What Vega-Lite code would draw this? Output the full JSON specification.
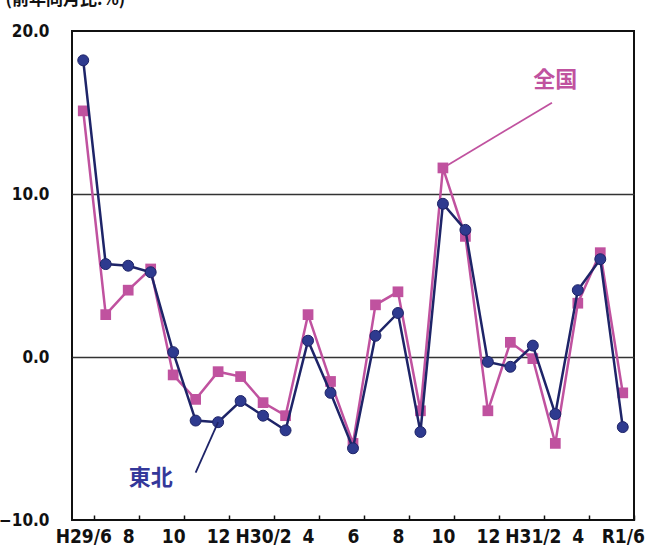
{
  "$schema": "https://vega.github.io/schema/vega-lite/v6.json",
  "width": 562,
  "height": 489,
  "autosize": {"type": "none"},
  "padding": {"left": 72, "top": 31, "right": 15, "bottom": 33},
  "background": "white",
  "config": {
    "view": {"stroke": "#111111", "strokeWidth": 2},
    "axis": {"labelFont": "Liberation Sans Narrow, DejaVu Sans Condensed, Roboto, sans-serif", "labelColor": "#111111", "labelFontWeight": "bold", "labelOverlap": false},
    "axisX": {"labelOverlap": false, "labelFlush": false}
  },
  "datasets": {
    "series": [
      {"i": 0, "month": "H29/6", "region": "東北", "value": 18.2},
      {"i": 1, "month": "H29/7", "region": "東北", "value": 5.7},
      {"i": 2, "month": "H29/8", "region": "東北", "value": 5.6},
      {"i": 3, "month": "H29/9", "region": "東北", "value": 5.2},
      {"i": 4, "month": "H29/10", "region": "東北", "value": 0.3},
      {"i": 5, "month": "H29/11", "region": "東北", "value": -3.9},
      {"i": 6, "month": "H29/12", "region": "東北", "value": -4.0},
      {"i": 7, "month": "H30/1", "region": "東北", "value": -2.7},
      {"i": 8, "month": "H30/2", "region": "東北", "value": -3.6},
      {"i": 9, "month": "H30/3", "region": "東北", "value": -4.5},
      {"i": 10, "month": "H30/4", "region": "東北", "value": 1.0},
      {"i": 11, "month": "H30/5", "region": "東北", "value": -2.2},
      {"i": 12, "month": "H30/6", "region": "東北", "value": -5.6},
      {"i": 13, "month": "H30/7", "region": "東北", "value": 1.3},
      {"i": 14, "month": "H30/8", "region": "東北", "value": 2.7},
      {"i": 15, "month": "H30/9", "region": "東北", "value": -4.6},
      {"i": 16, "month": "H30/10", "region": "東北", "value": 9.4},
      {"i": 17, "month": "H30/11", "region": "東北", "value": 7.8},
      {"i": 18, "month": "H30/12", "region": "東北", "value": -0.3},
      {"i": 19, "month": "H31/1", "region": "東北", "value": -0.6},
      {"i": 20, "month": "H31/2", "region": "東北", "value": 0.7},
      {"i": 21, "month": "H31/3", "region": "東北", "value": -3.5},
      {"i": 22, "month": "H31/4", "region": "東北", "value": 4.1},
      {"i": 23, "month": "R1/5", "region": "東北", "value": 6.0},
      {"i": 24, "month": "R1/6", "region": "東北", "value": -4.3},
      {"i": 0, "month": "H29/6", "region": "全国", "value": 15.1},
      {"i": 1, "month": "H29/7", "region": "全国", "value": 2.6},
      {"i": 2, "month": "H29/8", "region": "全国", "value": 4.1},
      {"i": 3, "month": "H29/9", "region": "全国", "value": 5.4},
      {"i": 4, "month": "H29/10", "region": "全国", "value": -1.1},
      {"i": 5, "month": "H29/11", "region": "全国", "value": -2.6},
      {"i": 6, "month": "H29/12", "region": "全国", "value": -0.9},
      {"i": 7, "month": "H30/1", "region": "全国", "value": -1.2},
      {"i": 8, "month": "H30/2", "region": "全国", "value": -2.8},
      {"i": 9, "month": "H30/3", "region": "全国", "value": -3.6},
      {"i": 10, "month": "H30/4", "region": "全国", "value": 2.6},
      {"i": 11, "month": "H30/5", "region": "全国", "value": -1.5},
      {"i": 12, "month": "H30/6", "region": "全国", "value": -5.3},
      {"i": 13, "month": "H30/7", "region": "全国", "value": 3.2},
      {"i": 14, "month": "H30/8", "region": "全国", "value": 4.0},
      {"i": 15, "month": "H30/9", "region": "全国", "value": -3.3},
      {"i": 16, "month": "H30/10", "region": "全国", "value": 11.6},
      {"i": 17, "month": "H30/11", "region": "全国", "value": 7.4},
      {"i": 18, "month": "H30/12", "region": "全国", "value": -3.3},
      {"i": 19, "month": "H31/1", "region": "全国", "value": 0.9},
      {"i": 20, "month": "H31/2", "region": "全国", "value": -0.1},
      {"i": 21, "month": "H31/3", "region": "全国", "value": -5.3},
      {"i": 22, "month": "H31/4", "region": "全国", "value": 3.3},
      {"i": 23, "month": "R1/5", "region": "全国", "value": 6.4},
      {"i": 24, "month": "R1/6", "region": "全国", "value": -2.2}
    ],
    "notes": [
      {"region": "全国", "i": 21, "v": 17.0},
      {"region": "東北", "i": 3, "v": -7.4}
    ],
    "leaders": [
      {"region": "全国", "i": 16, "v": 11.6, "i2": 20.85, "v2": 15.6},
      {"region": "東北", "i": 5.0, "v": -7.1, "i2": 6.0, "v2": -4.0}
    ]
  },
  "layer": [
    {
      "data": {"name": "series"},
      "transform": [{"filter": "datum.region === '全国'"}],
      "mark": {"type": "line", "color": "#c0529f", "strokeWidth": 2.5},
      "encoding": {
        "x": {
          "field": "i", "type": "quantitative",
          "scale": {"domain": [-0.5, 24.5], "nice": false, "zero": false},
          "axis": {
            "title": null,
            "values": [0.5, 1.5, 2.5, 3.5, 4.5, 5.5, 6.5, 7.5, 8.5, 9.5, 10.5, 11.5, 12.5, 13.5, 14.5, 15.5, 16.5, 17.5, 18.5, 19.5, 20.5, 21.5, 22.5, 23.5, 24.5],
            "labelExpr": "datum.value == 0.5 ? 'H29/6' : datum.value == 2.5 ? '8' : datum.value == 4.5 ? '10' : datum.value == 6.5 ? '12' : datum.value == 8.5 ? 'H30/2' : datum.value == 10.5 ? '4' : datum.value == 12.5 ? '6' : datum.value == 14.5 ? '8' : datum.value == 16.5 ? '10' : datum.value == 18.5 ? '12' : datum.value == 20.5 ? 'H31/2' : datum.value == 22.5 ? '4' : datum.value == 24.5 ? 'R1/6' : ''",
            "labelOffset": -11.24,
            "labelOverlap": false,
            "labelFlush": false,
            "labelFontSize": 19,
            "labelPadding": 12,
            "tickSize": -5,
            "tickColor": "#111111",
            "tickWidth": 1.5,
            "domain": false,
            "grid": false
          }
        },
        "y": {
          "field": "value", "type": "quantitative",
          "scale": {"domain": [-10, 20], "nice": false},
          "axis": {
            "title": "(前年同月比:%)",
            "titleAngle": 0,
            "titleAlign": "left",
            "titleBaseline": "bottom",
            "titleX": -67,
            "titleY": -23,
            "titleFont": "Noto Sans CJK JP",
            "titleFontSize": 17,
            "titleFontWeight": "bold",
            "titleColor": "#111111",
            "values": [-10, 0, 10, 20],
            "format": ".1f",
            "labelFontSize": 17,
            "labelPadding": 23,
            "ticks": false,
            "domain": false,
            "grid": true,
            "gridColor": "#333333",
            "gridWidth": 1.5,
            "gridOpacity": {"condition": {"test": "datum.value === 0 || datum.value === 10", "value": 1}, "value": 0}
          }
        }
      }
    },
    {
      "data": {"name": "series"},
      "transform": [{"filter": "datum.region === '全国'"}],
      "mark": {"type": "square", "color": "#c0529f", "filled": true, "opacity": 1, "size": 115},
      "encoding": {
        "x": {"field": "i", "type": "quantitative"},
        "y": {"field": "value", "type": "quantitative"}
      }
    },
    {
      "data": {"name": "series"},
      "transform": [{"filter": "datum.region === '東北'"}],
      "mark": {"type": "line", "color": "#1e2468", "strokeWidth": 2.5},
      "encoding": {
        "x": {"field": "i", "type": "quantitative"},
        "y": {"field": "value", "type": "quantitative"}
      }
    },
    {
      "data": {"name": "series"},
      "transform": [{"filter": "datum.region === '東北'"}],
      "mark": {"type": "circle", "fill": "#2e3a8f", "stroke": "#1e2468", "strokeWidth": 1, "opacity": 1, "size": 120},
      "encoding": {
        "x": {"field": "i", "type": "quantitative"},
        "y": {"field": "value", "type": "quantitative"}
      }
    },
    {
      "data": {"name": "leaders"},
      "mark": {"type": "rule", "strokeWidth": 1.8},
      "encoding": {
        "x": {"field": "i", "type": "quantitative"},
        "y": {"field": "v", "type": "quantitative"},
        "x2": {"field": "i2"},
        "y2": {"field": "v2"},
        "color": {"field": "region", "type": "nominal", "scale": {"domain": ["全国", "東北"], "range": ["#c0529f", "#1e2468"]}, "legend": null}
      }
    },
    {
      "data": {"name": "notes"},
      "mark": {"type": "text", "font": "Noto Sans CJK JP", "fontWeight": "bold", "fontSize": 22, "align": "center", "baseline": "middle"},
      "encoding": {
        "x": {"field": "i", "type": "quantitative"},
        "y": {"field": "v", "type": "quantitative"},
        "text": {"field": "region"},
        "color": {"field": "region", "type": "nominal", "scale": {"domain": ["全国", "東北"], "range": ["#c0529f", "#34389a"]}, "legend": null}
      }
    }
  ],
  "resolve": {"scale": {"color": "independent"}}
}
